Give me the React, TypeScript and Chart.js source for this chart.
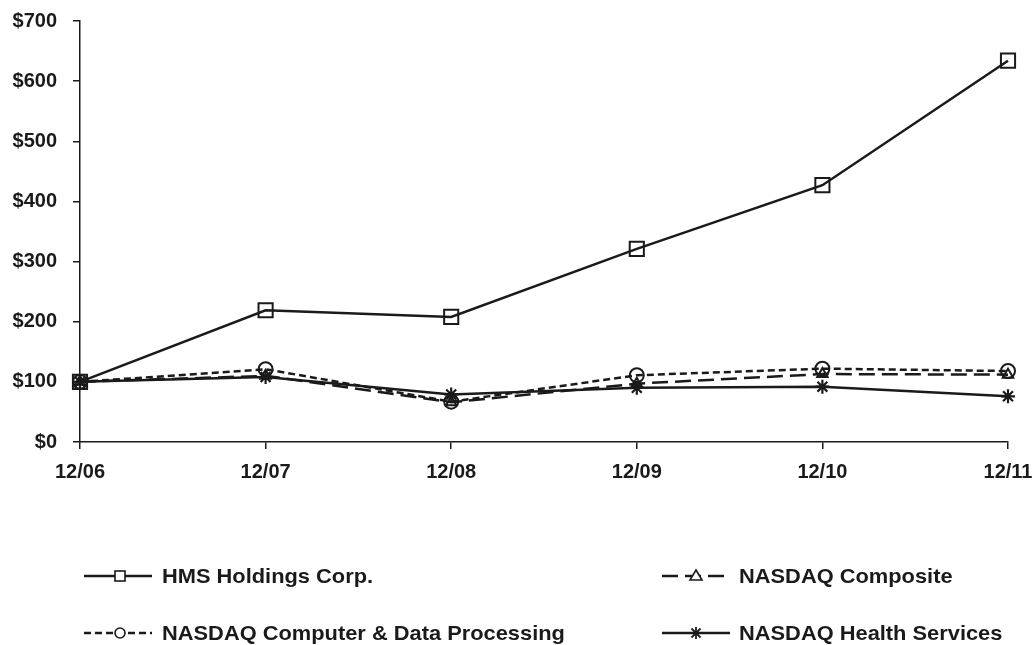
import React, { useEffect, useRef } from "react";
import { Chart, registerables } from "chart.js";

Chart.register(...registerables);

const categories = ["12/06", "12/07", "12/08", "12/09", "12/10", "12/11"];
const hmsValues = [100, 219, 208, 321, 427, 634];
const compositeValues = [100, 110, 66, 97, 113, 112];
const computerValues = [100, 121, 67, 111, 122, 118];
const healthValues = [100, 108, 79, 90, 92, 76];
const yMin = 0;
const yMax = 700;
const yStep = 100;

const seriesNames = [
  "HMS Holdings Corp.",
  "NASDAQ Composite",
  "NASDAQ Computer & Data Processing",
  "NASDAQ Health Services",
];

const INK = "#1a1a1a";
const FONT = "'Liberation Sans', Arial, Helvetica, sans-serif";

function Sample({ kind }: { kind: string }) {
  const w = 68;
  const h = 20;
  const cy = 10;
  const cx = kind === "hms" || kind === "computer" ? 36 : 34;
  let line: React.ReactNode = null;
  let marker: React.ReactNode = null;
  if (kind === "hms") {
    line = <line x1={0} y1={cy} x2={w} y2={cy} stroke={INK} strokeWidth={2.5} />;
    marker = <rect x={cx - 5} y={cy - 5} width={10} height={10} fill="white" stroke={INK} strokeWidth={1.6} />;
  } else if (kind === "composite") {
    line = <line x1={0} y1={cy} x2={w} y2={cy} stroke={INK} strokeWidth={2.5} strokeDasharray="16 7" />;
    marker = <polygon points={`${cx},${cy - 6} ${cx + 6},${cy + 4} ${cx - 6},${cy + 4}`} fill="white" stroke={INK} strokeWidth={1.6} />;
  } else if (kind === "computer") {
    line = <line x1={0} y1={cy} x2={w} y2={cy} stroke={INK} strokeWidth={2.5} strokeDasharray="7 4" />;
    marker = <circle cx={cx} cy={cy} r={5} fill="white" stroke={INK} strokeWidth={1.6} />;
  } else {
    line = <line x1={0} y1={cy} x2={w} y2={cy} stroke={INK} strokeWidth={2.5} />;
    marker = (
      <g stroke={INK} strokeWidth={1.8}>
        <line x1={cx - 6} y1={cy} x2={cx + 6} y2={cy} />
        <line x1={cx} y1={cy - 6} x2={cx} y2={cy + 6} />
        <line x1={cx - 4.5} y1={cy - 4.5} x2={cx + 4.5} y2={cy + 4.5} />
        <line x1={cx - 4.5} y1={cy + 4.5} x2={cx + 4.5} y2={cy - 4.5} />
      </g>
    );
  }
  return (
    <svg width={w} height={h} style={{ display: "block" }}>
      {line}
      {marker}
    </svg>
  );
}

function LegendItem({ kind, label, x, y, tx }: { kind: string; label: string; x: number; y: number; tx: number }) {
  return (
    <>
      <div style={{ position: "absolute", left: x, top: y - 10 }}>
        <Sample kind={kind} />
      </div>
      <div
        style={{
          position: "absolute",
          left: tx,
          top: y - 12,
          height: 24,
          lineHeight: "24px",
          font: `bold 21px ${FONT}`,
          color: INK,
          whiteSpace: "nowrap",
          transform: "scaleX(1.04)",
          transformOrigin: "left center",
        }}
      >
        {label}
      </div>
    </>
  );
}

export default function App() {
  const canvasRef = useRef<HTMLCanvasElement | null>(null);

  useEffect(() => {
    if (!canvasRef.current) return;
    const gridCommon = {
      display: true,
      drawOnChartArea: false,
      drawTicks: true,
      tickLength: 7,
      color: INK,
      lineWidth: 1.5,
    };
    const chart = new Chart(canvasRef.current, {
      type: "line",
      data: {
        labels: categories,
        datasets: [
          {
            label: seriesNames[0],
            data: hmsValues,
            borderColor: INK,
            borderWidth: 2.5,
            pointStyle: "rect",
            pointRadius: 10,
            pointBorderWidth: 2,
            pointBorderColor: INK,
            pointBackgroundColor: "rgba(255,255,255,0)",
            tension: 0,
            order: 0,
          },
          {
            label: seriesNames[1],
            data: compositeValues,
            borderColor: INK,
            borderWidth: 2.5,
            borderDash: [16, 7],
            pointStyle: "triangle",
            pointRadius: 6,
            pointBorderWidth: 2,
            pointBorderColor: INK,
            pointBackgroundColor: "rgba(255,255,255,0)",
            tension: 0,
            order: 2,
          },
          {
            label: seriesNames[2],
            data: computerValues,
            borderColor: INK,
            borderWidth: 2.5,
            borderDash: [7, 4],
            pointStyle: "circle",
            pointRadius: 7,
            pointBorderWidth: 2,
            pointBorderColor: INK,
            pointBackgroundColor: "rgba(255,255,255,0)",
            tension: 0,
            order: 3,
          },
          {
            label: seriesNames[3],
            data: healthValues,
            borderColor: INK,
            borderWidth: 2.5,
            pointStyle: "star",
            pointRadius: 7,
            pointBorderWidth: 2.2,
            pointBorderColor: INK,
            pointBackgroundColor: INK,
            tension: 0,
            order: 1,
          },
        ],
      },
      options: {
        responsive: false,
        animation: false,
        devicePixelRatio: 1,
        layout: { padding: { left: 0, right: 26, top: 21, bottom: 163 } },
        plugins: {
          legend: { display: false },
          tooltip: { enabled: false },
          title: { display: false },
        },
        scales: {
          x: {
            type: "category",
            offset: false,
            grid: gridCommon,
            border: { display: true, color: INK, width: 1.5 },
            ticks: {
              color: INK,
              font: { family: FONT, size: 20, weight: "bold" },
              padding: 11,
              maxRotation: 0,
              autoSkip: false,
            },
            afterFit: (scale: any) => {
              scale.height = 40;
              scale.paddingLeft = 0;
              scale.paddingRight = 0;
            },
          },
          y: {
            min: yMin,
            max: yMax,
            grid: gridCommon,
            border: { display: true, color: INK, width: 1.5 },
            ticks: {
              stepSize: yStep,
              color: INK,
              font: { family: FONT, size: 20, weight: "bold" },
              padding: 16,
              callback: (v: any) => "$" + v,
            },
            afterFit: (scale: any) => {
              scale.width = 80;
              scale.paddingTop = 0;
              scale.paddingBottom = 0;
            },
          },
        },
      },
    } as any);
    return () => chart.destroy();
  }, []);

  return (
    <div style={{ position: "absolute", left: 0, top: 0, width: 1034, height: 645, background: "white", overflow: "hidden" }}>
      <canvas ref={canvasRef} width={1034} height={645} style={{ display: "block", width: 1034, height: 645 }} />
      <LegendItem kind="hms" label={seriesNames[0]} x={84} y={576} tx={162} />
      <LegendItem kind="composite" label={seriesNames[1]} x={662} y={576} tx={739} />
      <LegendItem kind="computer" label={seriesNames[2]} x={84} y={633} tx={162} />
      <LegendItem kind="health" label={seriesNames[3]} x={662} y={633} tx={739} />
    </div>
  );
}
